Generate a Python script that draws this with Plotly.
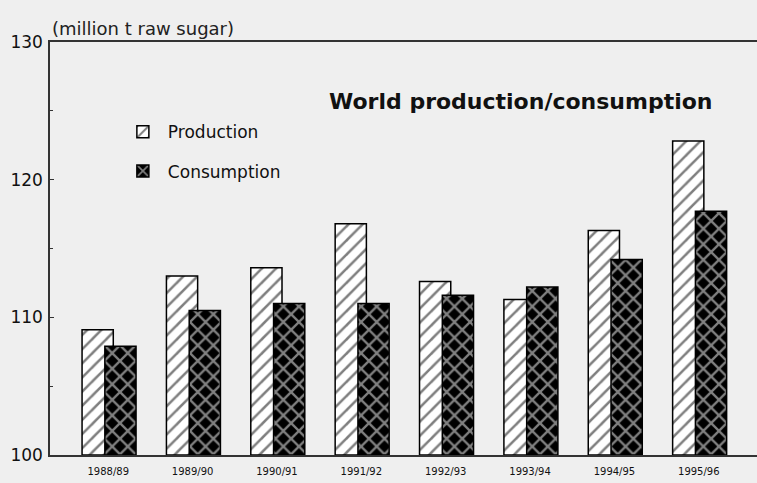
import plotly.graph_objects as go

seasons = ["1988/89", "1989/90", "1990/91", "1991/92", "1992/93", "1993/94", "1994/95", "1995/96"]
production = [109.1, 113.0, 113.6, 116.8, 112.6, 111.3, 116.3, 122.8]
consumption = [107.9, 110.5, 111.0, 111.0, 111.6, 112.2, 114.2, 117.7]

x_idx = list(range(len(seasons)))
FONT = "DejaVu Sans, Liberation Sans, Arial, sans-serif"

fig = go.Figure()
fig.add_trace(go.Bar(
    x=x_idx, y=[p - 100 for p in production], base=100, name="Production",
    legendgroup="p", width=0.37, offset=-0.31,
    marker=dict(color="white", line=dict(color="black", width=1.5),
                pattern=dict(shape="/", fgcolor="black", bgcolor="white", size=10, solidity=0.25, fillmode="overlay")),
))
fig.add_trace(go.Bar(
    x=x_idx, y=[c - 100 for c in consumption], base=100, name="Consumption",
    legendgroup="c", width=0.37, offset=-0.04,
    marker=dict(color="black", line=dict(color="black", width=1.5),
                pattern=dict(shape="x", fgcolor="white", bgcolor="black", size=11, solidity=0.38, fillmode="overlay")),
))

fig.update_layout(
    width=757, height=483,
    barmode="overlay",
    paper_bgcolor="#efefef", plot_bgcolor="#efefef",
    margin=dict(l=50, r=0, t=42, b=28, autoexpand=False),
    font=dict(family=FONT, color="#111"),
    showlegend=True,
    legend=dict(x=0.096, y=0.825, xanchor="left", yanchor="top", bgcolor="rgba(0,0,0,0)",
                font=dict(size=17), itemwidth=40, tracegroupgap=14),
    xaxis=dict(
        range=[-0.69, 7.69], tickmode="array", tickvals=x_idx, ticktext=seasons,
        tickfont=dict(size=10), showline=True, linecolor="#333", linewidth=1.5, mirror=True,
        showgrid=False, zeroline=False, ticks="", ticklabelstandoff=6, automargin=False,
    ),
    yaxis=dict(
        range=[100, 130], tickvals=[100, 110, 120, 130], tickfont=dict(size=17),
        showline=True, linecolor="#333", linewidth=1.5, ticks="inside", ticklen=4,
        tickcolor="#333", minor=dict(ticks="inside", ticklen=3, dtick=5, tickcolor="#333"),
        showgrid=False, zeroline=False, automargin=False, ticklabelstandoff=2,
    ),
    annotations=[
        dict(text="(million t raw sugar)", xref="paper", yref="paper", x=0.0, y=1.0,
             xanchor="left", yanchor="bottom", showarrow=False, font=dict(size=18, color="#222"),
             yshift=1),
        dict(text="<b>World production/consumption</b>", xref="paper", yref="paper",
             x=0.94, y=0.857, xanchor="right", yanchor="middle", showarrow=False,
             font=dict(size=22, color="#111")),
    ],
)

fig.write_html("out.html", config={"displayModeBar": False},
               post_script="document.body.style.margin='0';document.body.style.overflow='hidden';")
